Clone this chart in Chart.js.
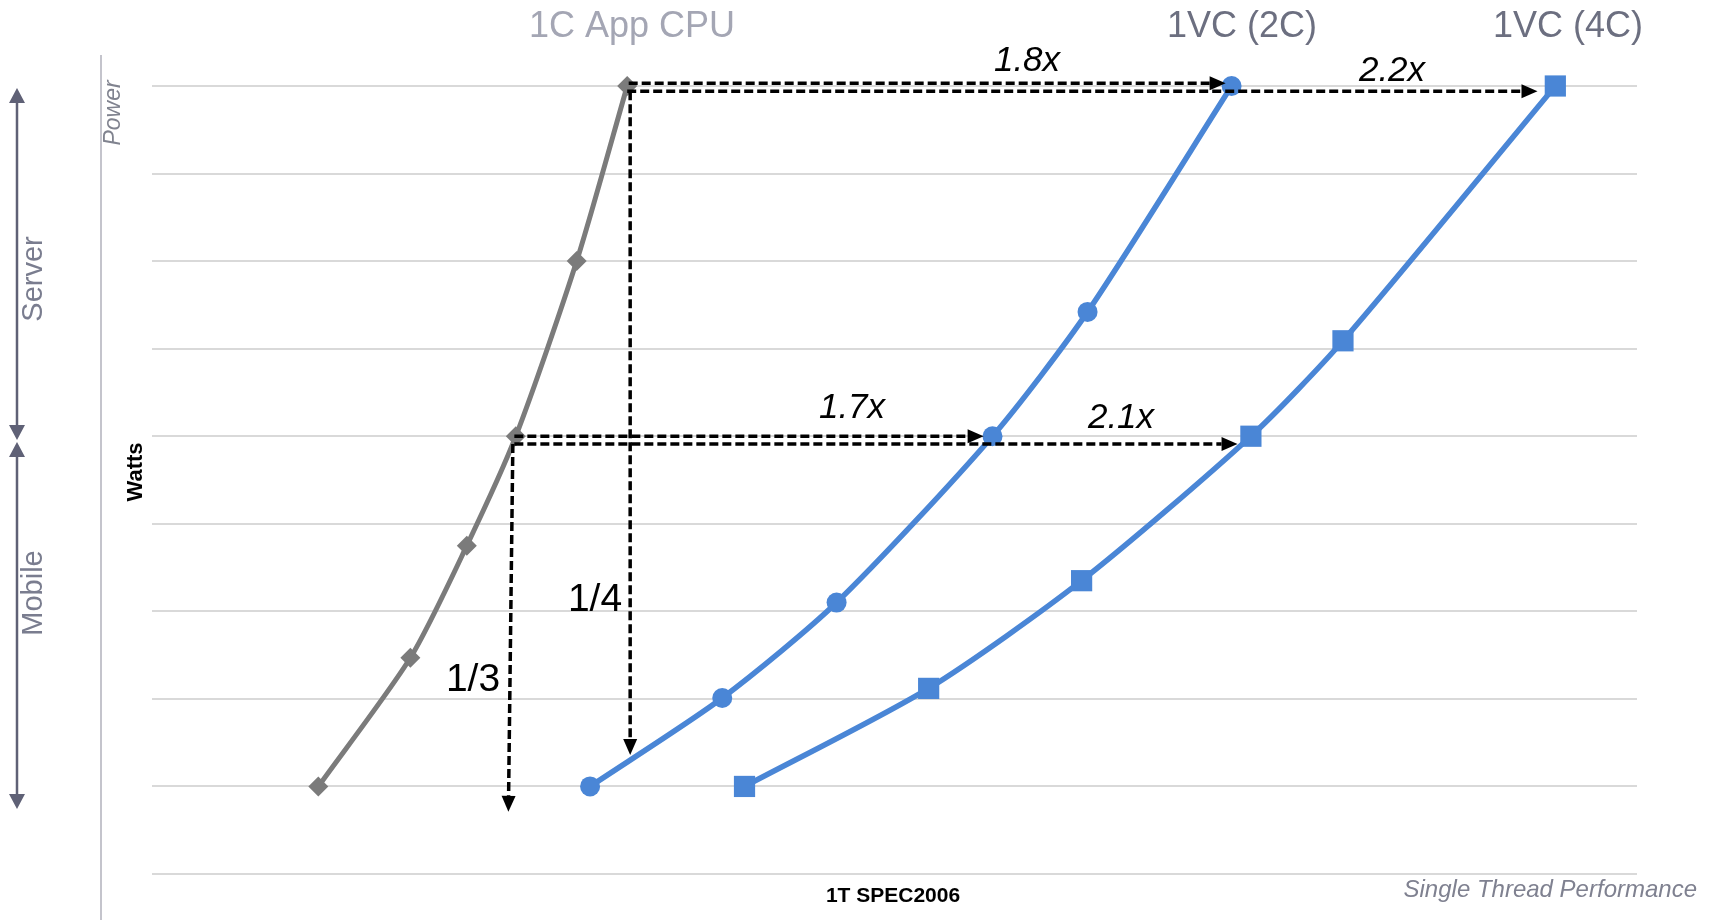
<!DOCTYPE html>
<html><head><meta charset="utf-8">
<script src="https://cdn.jsdelivr.net/npm/chart.js@4.4.1/dist/chart.umd.min.js"></script>
<style>html,body{margin:0;padding:0;background:#fff}#wrap{position:relative;width:1711px;height:920px}</style>
</head><body><div id="wrap"><canvas id="c"></canvas></div>
<script>
// ---- data ----
const seriesNames = ['1C App CPU', '1VC (2C)', '1VC (4C)'];
const appCpuX = [11.2, 17.4, 21.2, 24.5, 28.6, 32.0];
const appCpuY = [1, 2.47, 3.75, 5, 7, 9];
const vc2X = [29.5, 38.4, 46.1, 56.6, 63.0, 72.7];
const vc2Y = [1, 2.01, 3.1, 5, 6.42, 9];
const vc4X = [39.9, 52.3, 62.6, 74.0, 80.2, 94.5];
const vc4Y = [1, 2.12, 3.35, 5, 6.09, 9];
const gridValues = [0, 1, 2, 3, 4, 5, 6, 7, 8, 9];
const ratioLabels = ['1.8x', '2.2x', '1.7x', '2.1x'];
const fractionLabels = ['1/4', '1/3'];
const axisTitles = ['Power', 'Watts', '1T SPEC2006', 'Single Thread Performance'];
const bandLabels = ['Server', 'Mobile'];

// annotation arrows in data coordinates
const arrows = [
  [32.1, 9.03, 72.3, 9.03],
  [32.0, 8.94, 93.3, 8.94],
  [32.2, 8.94, 32.2, 1.36],
  [24.4, 5.0, 56.0, 5.0],
  [24.4, 4.91, 73.1, 4.91],
  [24.3, 4.91, 24.0, 0.71]
];

const toPts = (xs, ys) => xs.map((x, i) => ({x, y: ys[i]}));
const FONT = '"Liberation Sans", Arial, sans-serif';

const decor = {
  id: 'decor',
  beforeDatasetsDraw(chart) {
    const {ctx, chartArea: a, scales: {y}} = chart;
    ctx.save();
    ctx.strokeStyle = '#d9d9d9';
    ctx.lineWidth = 2;
    gridValues.forEach(v => {
      const py = Math.round(y.getPixelForValue(v));
      ctx.beginPath(); ctx.moveTo(a.left, py); ctx.lineTo(a.right, py); ctx.stroke();
    });
    // left axis line
    ctx.strokeStyle = '#c4c4cc';
    ctx.lineWidth = 2;
    ctx.beginPath(); ctx.moveTo(101, 55); ctx.lineTo(101, 920); ctx.stroke();
    // double arrows (Server / Mobile)
    const dbl = (top, bot) => {
      ctx.strokeStyle = '#5f6176'; ctx.fillStyle = '#5f6176'; ctx.lineWidth = 2.5;
      ctx.beginPath(); ctx.moveTo(17, top + 12); ctx.lineTo(17, bot - 12); ctx.stroke();
      ctx.beginPath(); ctx.moveTo(17, top); ctx.lineTo(25, top + 15); ctx.lineTo(9, top + 15); ctx.closePath(); ctx.fill();
      ctx.beginPath(); ctx.moveTo(17, bot); ctx.lineTo(25, bot - 15); ctx.lineTo(9, bot - 15); ctx.closePath(); ctx.fill();
    };
    dbl(88, 440); dbl(442, 809);
    ctx.restore();
  },
  afterDatasetsDraw(chart) {
    const {ctx, scales: {x, y}} = chart;
    ctx.save();
    arrows.forEach(([x1, y1, x2, y2]) => {
      const px1 = x.getPixelForValue(x1), py1 = y.getPixelForValue(y1);
      const px2 = x.getPixelForValue(x2), py2 = y.getPixelForValue(y2);
      const ang = Math.atan2(py2 - py1, px2 - px1);
      const L = 16, W = 7;
      const bx = px2 - L * Math.cos(ang), by = py2 - L * Math.sin(ang);
      ctx.strokeStyle = '#000'; ctx.fillStyle = '#000'; ctx.lineWidth = 3.5;
      ctx.setLineDash([9, 4]);
      ctx.beginPath(); ctx.moveTo(px1, py1); ctx.lineTo(bx, by); ctx.stroke();
      ctx.setLineDash([]);
      ctx.beginPath();
      ctx.moveTo(px2, py2);
      ctx.lineTo(bx + W * Math.sin(ang), by - W * Math.cos(ang));
      ctx.lineTo(bx - W * Math.sin(ang), by + W * Math.cos(ang));
      ctx.closePath(); ctx.fill();
    });

    const txt = (s, px, py, font, color, align, rot) => {
      ctx.save();
      ctx.translate(px, py);
      if (rot) ctx.rotate(rot);
      ctx.font = font; ctx.fillStyle = color; ctx.textAlign = align || 'center';
      ctx.textBaseline = 'alphabetic';
      ctx.fillText(s, 0, 0);
      ctx.restore();
    };
    // series titles
    txt(seriesNames[0], 632, 37, '36px ' + FONT, '#a4a6b4');
    txt(seriesNames[1], 1242, 37, '36px ' + FONT, '#6c6f80');
    txt(seriesNames[2], 1568, 37, '36px ' + FONT, '#6c6f80');
    // ratio labels
    txt(ratioLabels[0], 1027, 71, 'italic 35px ' + FONT, '#000');
    txt(ratioLabels[1], 1392, 81, 'italic 35px ' + FONT, '#000');
    txt(ratioLabels[2], 852, 418, 'italic 35px ' + FONT, '#000');
    txt(ratioLabels[3], 1121, 428, 'italic 35px ' + FONT, '#000');
    txt(fractionLabels[0], 595, 611, '39px ' + FONT, '#000');
    txt(fractionLabels[1], 473, 691, '39px ' + FONT, '#000');
    // axis titles
    txt(axisTitles[0], 120, 113, 'italic 23px ' + FONT, '#80838f', 'center', -Math.PI / 2);
    txt(axisTitles[1], 142, 472, 'bold 22px ' + FONT, '#000', 'center', -Math.PI / 2);
    txt(axisTitles[2], 893, 902, 'bold 21px ' + FONT, '#000');
    txt(axisTitles[3], 1697, 897, 'italic 24px ' + FONT, '#7f8190', 'right');
    // band labels
    txt(bandLabels[0], 42, 279, '29px ' + FONT, '#7a7d8f', 'center', -Math.PI / 2);
    txt(bandLabels[1], 42, 593, '29px ' + FONT, '#7a7d8f', 'center', -Math.PI / 2);
    ctx.restore();
  }
};

const blue = '#4a86d6';
new Chart(document.getElementById('c'), {
  type: 'scatter',
  data: {
    datasets: [
      {label: seriesNames[0], data: toPts(appCpuX, appCpuY), showLine: true, borderColor: '#7b7b7b',
       backgroundColor: '#7b7b7b', borderWidth: 5, pointStyle: 'rectRot', pointRadius: 10, pointBorderWidth: 0,
       tension: 0.25, clip: false},
      {label: seriesNames[1], data: toPts(vc2X, vc2Y), showLine: true, borderColor: blue,
       backgroundColor: blue, borderWidth: 5.5, pointStyle: 'circle', pointRadius: 10, pointBorderWidth: 0,
       tension: 0.25, clip: false},
      {label: seriesNames[2], data: toPts(vc4X, vc4Y), showLine: true, borderColor: blue,
       backgroundColor: blue, borderWidth: 5.5, pointStyle: 'rect', pointRadius: 15, pointBorderWidth: 0,
       tension: 0.25, clip: false}
    ]
  },
  options: {
    responsive: true, maintainAspectRatio: false, animation: false,
    layout: {padding: {left: 152, right: 74, top: 86, bottom: 46}},
    plugins: {legend: {display: false}, tooltip: {enabled: false}},
    scales: {
      x: {type: 'linear', min: 0, max: 100, display: false},
      y: {type: 'linear', min: 0, max: 9, display: false}
    }
  },
  plugins: [decor]
});
</script></body></html>
